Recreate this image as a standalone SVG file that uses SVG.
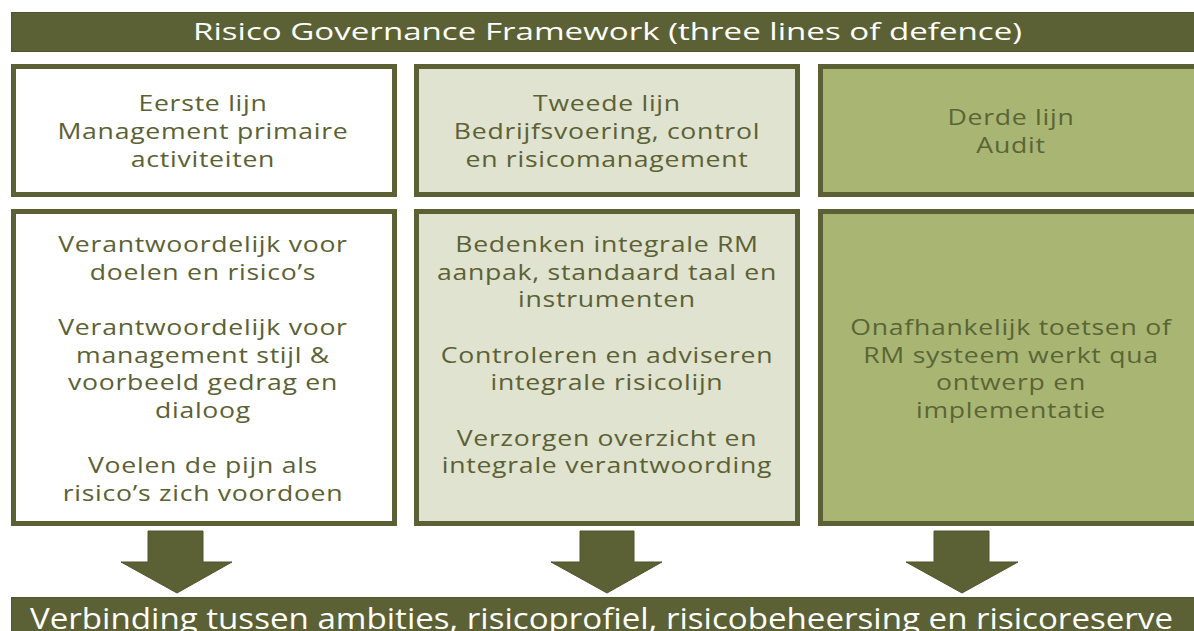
<svg xmlns="http://www.w3.org/2000/svg" width="1194" height="631" viewBox="0 0 1194 631">
<style>
.bar{fill:#5b6134;stroke:#4f552c;stroke-width:1}
.box{stroke:#5b6134;stroke-width:5}
.b1{fill:#ffffff}
.b2{fill:#e0e3cf}
.b3{fill:#a9b573}
.t{font-family:"Open Sans","DejaVu Sans",sans-serif;font-size:22px;fill:#5b6134;text-anchor:middle;letter-spacing:0.6px}
.t3{fill:#5a6536}
.w{font-family:"Open Sans","DejaVu Sans",sans-serif;fill:#ffffff;text-anchor:middle}
.arr{fill:#5b6134;stroke:#4f552c;stroke-width:1}
</style>
<g id="title">
<rect class="bar" x="11.5" y="12.5" width="1190" height="39"/>
<text class="w" x="607.5" y="40" font-size="24" textLength="829" lengthAdjust="spacingAndGlyphs">Risico Governance Framework (three lines of defence)</text>
</g>
<g id="line1-head">
<rect class="box b1" x="13.5" y="66.5" width="381" height="128"/>
<text class="t" transform="translate(203,0) scale(1.21,1) translate(-203,0)"><tspan x="203" y="111">Eerste lijn</tspan><tspan x="203" y="139">Management primaire</tspan><tspan x="203" y="167">activiteiten</tspan></text>
</g>
<g id="line2-head">
<rect class="box b2" x="416.5" y="66.5" width="381" height="128"/>
<text class="t" transform="translate(607,0) scale(1.21,1) translate(-607,0)"><tspan x="607" y="111">Tweede lijn</tspan><tspan x="607" y="139">Bedrijfsvoering, control</tspan><tspan x="607" y="167">en risicomanagement</tspan></text>
</g>
<g id="line3-head">
<rect class="box b3" x="820.5" y="66.5" width="390" height="128"/>
<text class="t t3" transform="translate(1011,0) scale(1.21,1) translate(-1011,0)"><tspan x="1011" y="125">Derde lijn</tspan><tspan x="1011" y="153">Audit</tspan></text>
</g>
<g id="line1-body">
<rect class="box b1" x="13.5" y="211.5" width="381" height="312"/>
<text class="t" transform="translate(203,0) scale(1.21,1) translate(-203,0)"><tspan x="203" y="252.5">Verantwoordelijk voor</tspan><tspan x="203" y="280">doelen en risico’s</tspan><tspan x="203" y="335.5">Verantwoordelijk voor</tspan><tspan x="203" y="363">management stijl &amp;</tspan><tspan x="203" y="390.5">voorbeeld gedrag en</tspan><tspan x="203" y="418">dialoog</tspan><tspan x="203" y="473.5">Voelen de pijn als</tspan><tspan x="203" y="501">risico’s zich voordoen</tspan></text>
</g>
<g id="line2-body">
<rect class="box b2" x="416.5" y="211.5" width="381" height="312"/>
<text class="t" transform="translate(607,0) scale(1.21,1) translate(-607,0)"><tspan x="607" y="252.5">Bedenken integrale RM</tspan><tspan x="607" y="280">aanpak, standaard taal en</tspan><tspan x="607" y="307.5">instrumenten</tspan><tspan x="607" y="363">Controleren en adviseren</tspan><tspan x="607" y="390.5">integrale risicolijn</tspan><tspan x="607" y="446">Verzorgen overzicht en</tspan><tspan x="607" y="473.5">integrale verantwoording</tspan></text>
</g>
<g id="line3-body">
<rect class="box b3" x="820.5" y="211.5" width="390" height="312"/>
<text class="t t3" transform="translate(1011,0) scale(1.21,1) translate(-1011,0)"><tspan x="1011" y="335.5">Onafhankelijk toetsen of</tspan><tspan x="1011" y="363">RM systeem werkt qua</tspan><tspan x="1011" y="390.5">ontwerp en</tspan><tspan x="1011" y="418">implementatie</tspan></text>
</g>
<g id="connectors">
<polygon class="arr" points="148,531 203,531 203,562 232,562 177,593 121,562 148,562"/>
<polygon class="arr" points="580,531 634,531 634,562 662,562 607,593 551,562 580,562"/>
<polygon class="arr" points="934,531 989,531 989,562 1018,562 962,593 906,562 934,562"/>
</g>
<g id="footer">
<rect class="bar" x="11.5" y="597.5" width="1190" height="40"/>
<text class="w" x="601.5" y="629" font-size="30" textLength="1143" lengthAdjust="spacingAndGlyphs">Verbinding tussen ambities, risicoprofiel, risicobeheersing en risicoreserve</text>
</g>
</svg>
